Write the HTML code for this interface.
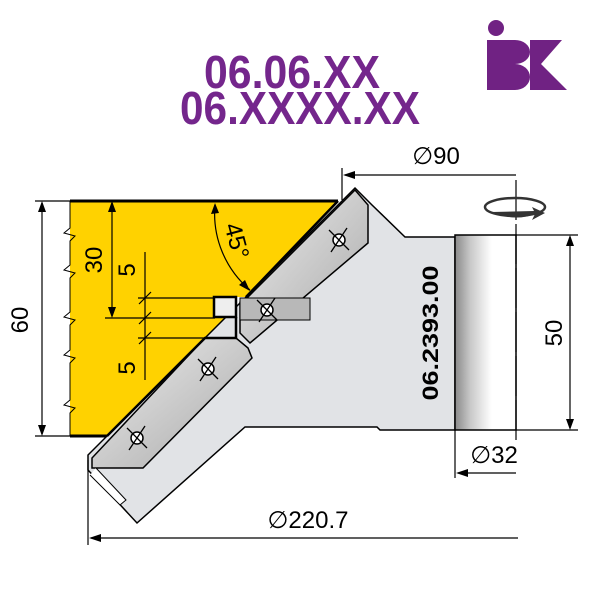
<!DOCTYPE html>
<html><head><meta charset="utf-8"><style>
html,body{margin:0;padding:0;background:#fff;}
svg{display:block;font-family:"Liberation Sans",sans-serif;}
</style></head><body>
<svg width="600" height="600" viewBox="0 0 600 600">
<defs>
<linearGradient id="sh" x1="0" x2="1" y1="0" y2="0">
<stop offset="0" stop-color="#8a8a8a"/><stop offset="0.25" stop-color="#c8c8c8"/><stop offset="0.6" stop-color="#fff"/><stop offset="1" stop-color="#fff"/>
</linearGradient>
<linearGradient id="ins" x1="0" x2="1" y1="0" y2="1">
<stop offset="0" stop-color="#eee"/><stop offset="1" stop-color="#a8a8a8"/>
</linearGradient>
</defs>
<!-- title -->
<text x="292" y="88" text-anchor="middle" font-size="46" font-weight="bold" fill="#74268c" textLength="176" lengthAdjust="spacingAndGlyphs">06.06.XX</text>
<text x="300" y="124" text-anchor="middle" font-size="46" font-weight="bold" fill="#74268c" textLength="240" lengthAdjust="spacingAndGlyphs">06.XXXX.XX</text>
<!-- logo -->
<g fill="#702283">
<circle cx="496" cy="28" r="8"/>
<rect x="487" y="40" width="14" height="50"/>
<path d="M500 40 H515 A15 12 0 0 1 515 64 A15 13 0 0 1 515 90 H500 Z"/>
<rect x="530" y="40" width="8" height="50"/>
<path d="M538 40 H562 L541 64 L567 90 H538 Z"/>
</g>
<!-- yellow workpiece -->
<path d="M70 201 H338 L246 297 H214 V317 H236 V338 H205 L107 436 H70 Z" fill="#ffd200"/>
<path d="M70 201 V228 L64 233 L75 236 L70 241 V265 L64 270 L75 273 L70 278 V312 L64 317 L75 320 L70 325 V350 L64 355 L75 358 L70 363 V400 L64 405 L75 408 L70 413 V436" fill="none" stroke="#000" stroke-width="1"/>
<line x1="70" y1="201" x2="338" y2="201" stroke="#000" stroke-width="3"/>
<line x1="70" y1="436" x2="107" y2="436" stroke="#000" stroke-width="3"/>
<!-- body -->
<path d="M355 188 L372 205 L405 237 H455 V430 H380 L377 427 H245 L137 523 L88 470 L88 455 Z" fill="#e1e3e6" stroke="#000" stroke-width="1.5"/>
<!-- shaft -->
<rect x="455" y="235" width="61" height="195" fill="url(#sh)" stroke="#000" stroke-width="1.5"/>
<!-- inserts -->
<path d="M355 190 L368 205 L368 243 L250 343 L240 333 L240 302 L248 297 Z" fill="url(#ins)" stroke="#000" stroke-width="1.5"/>
<rect x="240" y="298" width="70" height="22" fill="#b8b8b8" stroke="#000" stroke-width="1"/>
<path d="M205 338 L236 338 L248 348 L252 358 L143 468 L92 468 L92 458 Z" fill="url(#ins)" stroke="#000" stroke-width="1.5"/>
<path d="M90 475 L120 505 L126 500 L96 468" fill="#fff" stroke="#000" stroke-width="1"/>
<rect x="214" y="297" width="22" height="20" fill="#eee" stroke="#000" stroke-width="2.5"/>
<path d="M338 201 L246 297 M236 317 V338 H205 L107 436" fill="none" stroke="#000" stroke-width="2.5"/>
<!-- holes -->
<g fill="#fff" stroke="#000" stroke-width="1.5">
<circle cx="339" cy="240" r="6"/><circle cx="267" cy="310" r="6"/><circle cx="208" cy="369" r="6"/><circle cx="137" cy="438" r="6"/>
</g>
<g stroke="#000" stroke-width="1.3">
<path d="M329 230 L349 250 M331 252 L347 228 M257 300 L277 320 M259 322 L275 298 M198 359 L218 379 M200 381 L216 357 M127 428 L147 448 M129 450 L145 426"/>
</g>
<!-- dims -->
<g stroke="#000" stroke-width="1.2" fill="none">
<path d="M35 201 H70 M35 436 H70 M42 203 V434"/>
<path d="M112 203 V316 M105 318 H215"/>
<path d="M145 252 V380 M138 298 H214 M138 338 H205"/>
<path d="M139 304 L151 292 M139 324 L151 312 M139 344 L151 332"/>
<path d="M215 205 A100 100 0 0 0 250 290"/>
<path d="M342 168 V200 M345 175 H516"/>
<path d="M516 180 V440" stroke-dasharray="40 4"/>
<path d="M516 235 H578 M516 430 H578 M570 237 V428"/>
<path d="M455 430 V478 M458 473 H516"/>
<path d="M88 460 V545 M91 538 H518"/>
</g>
<g fill="#000">
<path d="M42 201 L38 212 L46 212 Z M42 436 L38 425 L46 425 Z"/>
<path d="M112 201 L108 212 L116 212 Z M112 318 L108 307 L116 307 Z"/>
<path d="M215 203 L211 214 L219 213 Z M250 291 L239 285 L245 280 Z"/>
<path d="M343 175 L355 171 L355 179 Z"/>
<path d="M570 235 L566 246 L574 246 Z M570 430 L566 419 L574 419 Z"/>
<path d="M456 473 L468 469 L468 477 Z"/>
<path d="M89 538 L101 534 L101 542 Z"/>
</g>
<!-- rotation icon -->
<ellipse cx="515" cy="207" rx="30" ry="9" fill="none" stroke="#333" stroke-width="2.5"/>
<path d="M492 212 Q515 222 535 214 L532 220 L545 213 L532 207 L534 211 Z" fill="#333"/>
<!-- texts -->
<g font-size="24" fill="#000">
<text x="436" y="164" text-anchor="middle">∅90</text>
<text x="494" y="463" text-anchor="middle">∅32</text>
<text x="308" y="528" text-anchor="middle">∅220.7</text>
<text transform="translate(28 320) rotate(-90)" text-anchor="middle">60</text>
<text transform="translate(102 260) rotate(-90)" text-anchor="middle">30</text>
<text transform="translate(135 270) rotate(-90)" text-anchor="middle">5</text>
<text transform="translate(135 368) rotate(-90)" text-anchor="middle">5</text>
<text transform="translate(562 333) rotate(-90)" text-anchor="middle">50</text>
<text transform="translate(229 243) rotate(75)" text-anchor="middle">45°</text>
</g>
<text transform="translate(438 333) rotate(-90)" text-anchor="middle" font-size="22" font-weight="bold" textLength="135" lengthAdjust="spacingAndGlyphs">06.2393.00</text>
</svg>
</body></html>
